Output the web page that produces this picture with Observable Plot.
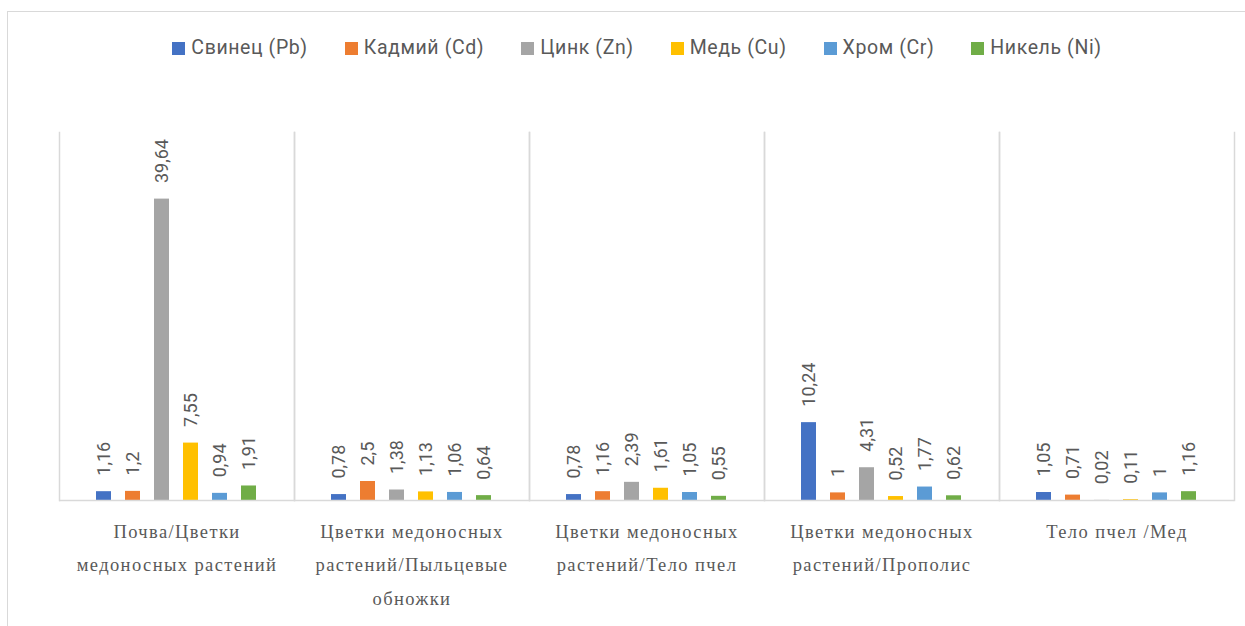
<!DOCTYPE html>
<html><head><meta charset="utf-8">
<script src="https://cdn.jsdelivr.net/npm/d3@7"></script>
<script src="https://cdn.jsdelivr.net/npm/@observablehq/plot@0.6"></script>
<style>
body{margin:0;background:#fff;overflow:hidden;}
#wrap{position:relative;width:1245px;height:626px;overflow:hidden;background:#fff;}
#border{position:absolute;left:7px;top:11px;width:1260px;height:640px;border:1.5px solid #d9d9d9;}
#legend{position:absolute;left:0;top:36px;width:1274px;display:flex;justify-content:center;gap:37px;font-family:Roboto,"Open Sans",sans-serif;font-size:19.5px;letter-spacing:0.6px;line-height:24px;color:#595959;}
#legend .it{display:flex;align-items:center;white-space:nowrap;}
#legend .sw{display:inline-block;width:13px;height:13px;margin-right:6px;}
#chart{position:absolute;left:0;top:100px;}
</style></head>
<body>
<div id="wrap">
<div id="border"></div>
<div id="legend"></div>
<div id="chart"></div>
</div>
<script>
const categories = [
  "Почва/Цветки\nмедоносных растений",
  "Цветки медоносных\nрастений/Пыльцевые\nобножки",
  "Цветки медоносных\nрастений/Тело пчел",
  "Цветки медоносных\nрастений/Прополис",
  "Тело пчел /Мед"
];
const series = ["Свинец (Pb)", "Кадмий (Cd)", "Цинк (Zn)", "Медь (Cu)", "Хром (Cr)", "Никель (Ni)"];
const colors = ["#4472C4", "#ED7D31", "#A5A5A5", "#FFC000", "#5B9BD5", "#70AD47"];
const lead     = [1.16, 0.78, 0.78, 10.24, 1.05];
const cadmium  = [1.2, 2.5, 1.16, 1, 0.71];
const zinc     = [39.64, 1.38, 2.39, 4.31, 0.02];
const copper   = [7.55, 1.13, 1.61, 0.52, 0.11];
const chromium = [0.94, 1.06, 1.05, 1.77, 1];
const nickel   = [1.91, 0.64, 0.55, 0.62, 1.16];

const seriesValues = [lead, cadmium, zinc, copper, chromium, nickel];
const data = [];
categories.forEach((c, i) => {
  series.forEach((s, j) => data.push({category: c, series: s, value: seriesValues[j][i]}));
});

const legend = document.getElementById("legend");
series.forEach((s, j) => {
  const it = document.createElement("div"); it.className = "it";
  const sw = document.createElement("span"); sw.className = "sw"; sw.style.background = colors[j];
  it.appendChild(sw); it.appendChild(document.createTextNode(s));
  legend.appendChild(it);
});

const fmt = v => String(v).replace(".", ",");
const grid = "#d9d9d9";

const chart = Plot.plot({
  width: 1245,
  height: 526,
  marginTop: 32,
  marginBottom: 126,
  marginLeft: 57,
  marginRight: 9,
  fx: {domain: categories, padding: 0, axis: null},
  x: {domain: series, paddingInner: 0.467, paddingOuter: 1.167, axis: null},
  y: {domain: [0, 48.4], axis: null},
  color: {domain: series, range: colors},
  marks: [
    Plot.frame({anchor: "left", stroke: grid, strokeWidth: 1.5}),
    Plot.frame({anchor: "right", stroke: grid, strokeWidth: 1.5}),
    Plot.barY(data, {fx: "category", x: "series", y: "value", fill: "series"}),
    Plot.ruleY([0], {stroke: grid, strokeWidth: 1.5}),
    Plot.text(data, {fx: "category", x: "series", y: "value", text: d => fmt(d.value),
      rotate: -90, textAnchor: "start", lineAnchor: "middle", dy: -16,
      fontSize: 18, fill: "#595959", fontFamily: "Roboto, 'Open Sans', sans-serif"}),
    Plot.text(categories, {fx: d => d, text: d => d, frameAnchor: "bottom", lineAnchor: "top",
      dy: 14, lineHeight: 1.8, fontSize: 18.5, fill: "#595959",
      fontFamily: "'Liberation Serif', 'DejaVu Serif', serif"})
  ]
});
const catFlat = new Set(categories.map(c => c.replace(/\n/g, "")));
chart.querySelectorAll("text").forEach(t => {
  if (catFlat.has(t.textContent)) t.style.letterSpacing = "1.4px";
});
document.getElementById("chart").appendChild(chart);
</script>
</body></html>
